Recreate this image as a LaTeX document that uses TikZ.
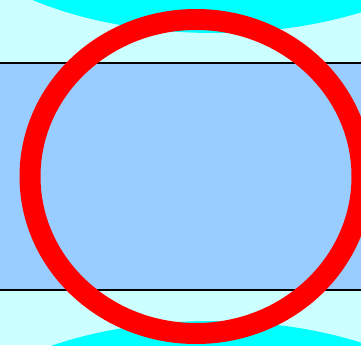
\documentclass[tikz,border=0pt]{standalone}
\definecolor{bgcyan}{HTML}{CCFFFF}
\definecolor{lobe}{HTML}{00FFFF}
\definecolor{band}{HTML}{99CCFF}
\definecolor{ring}{HTML}{FF0000}
\begin{document}
\begin{tikzpicture}[x=1pt,y=-1pt,
  lobefill/.style={fill=lobe},
  edgeline/.style={draw=black,line width=1.6pt},
  ringline/.style={draw=ring,line width=21pt}]
\useasboundingbox (0,0) rectangle (361,345);
\clip (0,0) rectangle (361,345);
\fill[bgcyan] (0,0) rectangle (361,345);
\fill[lobefill] (214,-117) ellipse [x radius=290, y radius=150];
\fill[lobefill] (211,471) ellipse [x radius=290, y radius=150];
\fill[band] (0,63) rectangle (361,290);
\draw[edgeline] (-5,63) -- (366,63);
\draw[edgeline] (-5,290) -- (366,290);
\draw[ringline] (196,176.5) ellipse [x radius=166, y radius=157];
\end{tikzpicture}
\end{document}
